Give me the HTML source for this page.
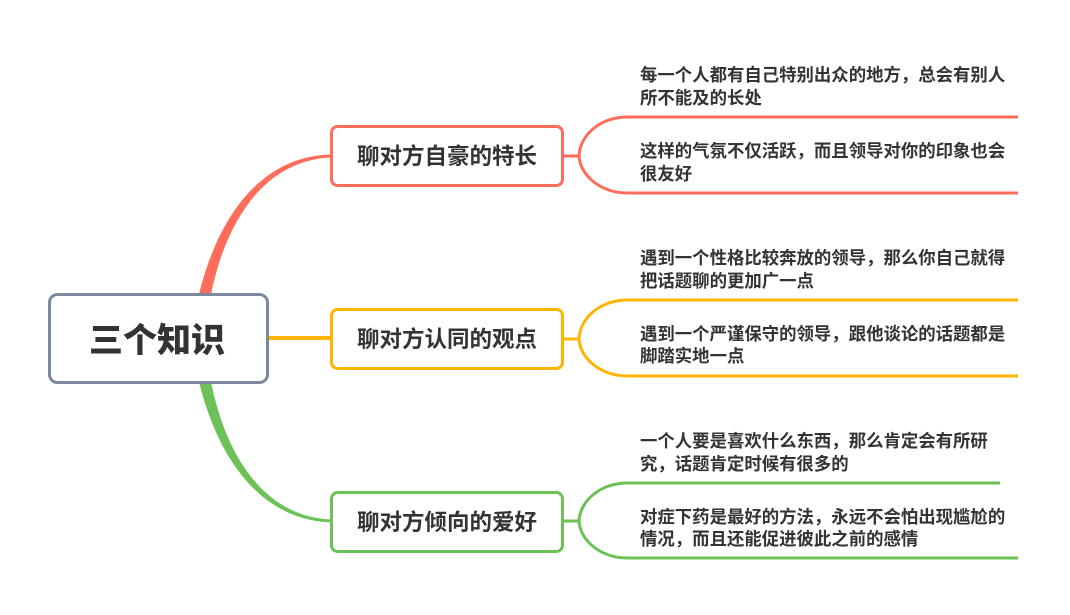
<!DOCTYPE html>
<html><head><meta charset="utf-8"><style>
html,body{margin:0;padding:0;background:#fff;}
svg text{font-family:"Liberation Sans","Noto Sans CJK SC",sans-serif;font-weight:bold;fill:#333;}
</style></head><body>
<svg width="1070" height="610" viewBox="0 0 1070 610" xmlns="http://www.w3.org/2000/svg">
<!-- main connectors (tapered) -->
<path d="M199,294 C220,210 265,156 331,154.5 L331,157.5 C270,160 228,212 211,294 Z" fill="#fd6d5a"/>
<line x1="268" y1="338" x2="331" y2="338" stroke="#feb401" stroke-width="4"/>
<path d="M199,382 C220,466 265,520 331,522.5 L331,519.5 C270,517 228,465 211,382 Z" fill="#6cc257"/>
<!-- root -->
<rect x="49.5" y="294.5" width="218" height="88" rx="8" fill="#fff" stroke="#7d8a9e" stroke-width="3"/>
<text x="157" y="352" font-size="34" text-anchor="middle" style="font-weight:900">三个知识</text>
<!-- branches -->
<g stroke-width="3" fill="#fff">
<rect x="331.5" y="126.5" width="231" height="59" rx="6" stroke="#fd6d5a"/>
<rect x="331.5" y="309.5" width="231" height="59" rx="6" stroke="#feb401"/>
<rect x="331.5" y="492.5" width="231" height="59" rx="6" stroke="#6cc257"/>
</g>
<text x="447" y="164" font-size="22.5" text-anchor="middle">聊对方自豪的特长</text>
<text x="447" y="347" font-size="22.5" text-anchor="middle">聊对方认同的观点</text>
<text x="447" y="530" font-size="22.5" text-anchor="middle">聊对方倾向的爱好</text>
<!-- brackets -->
<g fill="none" stroke-width="3">
<path d="M563,156 H579 M1018,117 H628 C600,117 580,135 579,156 C580,175 600,193 628,193 H1018" stroke="#fd6d5a"/>
<path d="M563,339 H579 M1018,300 H628 C600,300 580,318 579,339 C580,358 600,376 628,376 H1018" stroke="#feb401"/>
<path d="M563,521 H579 M1000,483 H628 C600,483 580,501 579,521 C580,540 600,558 628,558 H1018" stroke="#6cc257"/>
</g>
<!-- leaf texts -->
<g font-size="17.4">
<text x="640" y="81">每一个人都有自己特别出众的地方，总会有别人</text>
<text x="640" y="104">所不能及的长处</text>
<text x="640" y="157">这样的气氛不仅活跃，而且领导对你的印象也会</text>
<text x="640" y="180">很友好</text>
<text x="640" y="264">遇到一个性格比较奔放的领导，那么你自己就得</text>
<text x="640" y="287">把话题聊的更加广一点</text>
<text x="640" y="340">遇到一个严谨保守的领导，跟他谈论的话题都是</text>
<text x="640" y="362">脚踏实地一点</text>
<text x="640" y="447">一个人要是喜欢什么东西，那么肯定会有所研</text>
<text x="640" y="470">究，话题肯定时候有很多的</text>
<text x="640" y="523">对症下药是最好的方法，永远不会怕出现尴尬的</text>
<text x="640" y="545">情况，而且还能促进彼此之前的感情</text>
</g>
</svg>
</body></html>
